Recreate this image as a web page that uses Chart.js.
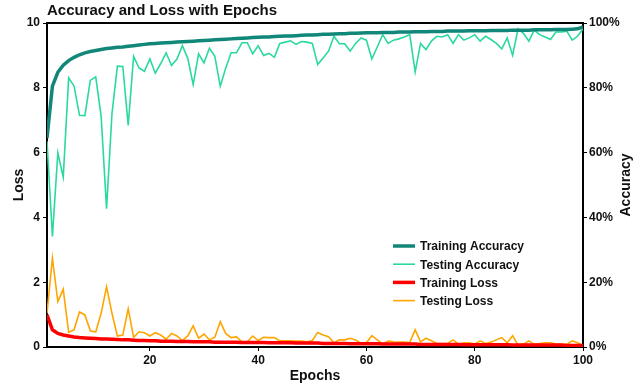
<!DOCTYPE html>
<html>
<head>
<meta charset="utf-8">
<script src="https://cdn.jsdelivr.net/npm/chart.js@4"></script>
<style>
  body { margin: 0; background: #fff; }
  #wrap { width: 642px; height: 386px; }
</style>
</head>
<body>
<div id="wrap"><canvas id="accLoss" width="642" height="386"></canvas></div>
<script>
// epochs 1..100
const epochs = Array.from({ length: 100 }, (_, i) => i + 1);
const xTicks = [20, 40, 60, 80, 100];

// accuracy in %
const trainAcc = [
  64.5, 80.5, 84.8, 87.0, 88.4, 89.4, 90.2, 90.8, 91.2, 91.5,
  91.8, 92.1, 92.3, 92.5, 92.6, 92.8, 93.0, 93.2, 93.4, 93.6,
  93.7, 93.8, 93.9, 94.0, 94.1, 94.2, 94.3, 94.4, 94.5, 94.6,
  94.7, 94.8, 94.9, 95.0, 95.1, 95.2, 95.3, 95.4, 95.5, 95.6,
  95.7, 95.7, 95.8, 95.9, 96.0, 96.0, 96.1, 96.2, 96.3, 96.3,
  96.4, 96.5, 96.5, 96.6, 96.7, 96.7, 96.8, 96.8, 96.9, 97.0,
  97.0, 97.0, 97.1, 97.1, 97.1, 97.2, 97.2, 97.2, 97.3, 97.3,
  97.3, 97.4, 97.4, 97.4, 97.5, 97.5, 97.5, 97.5, 97.6, 97.6,
  97.6, 97.6, 97.7, 97.7, 97.7, 97.7, 97.8, 97.8, 97.8, 97.8,
  97.9, 97.9, 97.9, 97.9, 98.0, 98.0, 98.0, 98.1, 98.2, 98.8
];
const testAcc = [
  63.5, 34.1, 59.9, 52.4, 83.1, 80.5, 71.5, 71.4, 82.3, 83.4,
  71.2, 42.7, 72.0, 86.7, 86.6, 68.4, 89.7, 86.1, 85.1, 88.9,
  84.5, 87.5, 90.8, 86.9, 88.9, 93.0, 89.1, 81.0, 90.5, 87.7,
  92.2, 89.7, 80.5, 86.0, 90.8, 90.8, 93.9, 93.9, 90.5, 93.0,
  90.0, 90.6, 89.4, 93.7, 94.1, 94.5, 93.4, 94.3, 94.1, 93.7,
  87.2, 89.2, 91.3, 95.9, 93.6, 93.6, 91.3, 93.7, 95.4, 94.7,
  88.9, 92.6, 96.4, 93.7, 94.7, 95.1, 95.7, 96.4, 84.9, 93.7,
  91.8, 94.4, 95.9, 95.7, 96.4, 93.7, 96.4, 94.7, 95.4, 96.4,
  94.4, 95.9, 94.9, 93.7, 92.0, 95.4, 90.0, 98.2, 96.8, 94.4,
  97.8, 96.4, 95.7, 94.9, 97.2, 97.2, 97.5, 94.7, 95.9, 98.2
];

// loss
const trainLoss = [
  0.99, 0.53, 0.42, 0.37, 0.34, 0.31, 0.29, 0.28, 0.27, 0.26,
  0.25, 0.25, 0.24, 0.23, 0.22, 0.22, 0.21, 0.20, 0.20, 0.19,
  0.19, 0.18, 0.18, 0.18, 0.17, 0.17, 0.17, 0.16, 0.16, 0.16,
  0.16, 0.15, 0.15, 0.15, 0.15, 0.15, 0.14, 0.14, 0.14, 0.14,
  0.14, 0.13, 0.13, 0.13, 0.13, 0.13, 0.12, 0.12, 0.12, 0.12,
  0.12, 0.11, 0.11, 0.11, 0.11, 0.11, 0.10, 0.10, 0.10, 0.10,
  0.10, 0.10, 0.09, 0.09, 0.09, 0.09, 0.09, 0.09, 0.09, 0.08,
  0.08, 0.08, 0.08, 0.08, 0.08, 0.08, 0.08, 0.07, 0.07, 0.07,
  0.07, 0.07, 0.07, 0.07, 0.07, 0.07, 0.06, 0.06, 0.06, 0.06,
  0.06, 0.06, 0.06, 0.06, 0.06, 0.06, 0.05, 0.05, 0.05, 0.05
];
const testLoss = [
  1.04, 2.74, 1.40, 1.78, 0.45, 0.53, 1.08, 0.99, 0.50, 0.46,
  1.04, 1.86, 1.04, 0.34, 0.37, 1.18, 0.30, 0.47, 0.44, 0.34,
  0.44, 0.37, 0.24, 0.42, 0.34, 0.20, 0.34, 0.65, 0.27, 0.40,
  0.22, 0.30, 0.78, 0.42, 0.29, 0.31, 0.16, 0.16, 0.34, 0.20,
  0.30, 0.29, 0.29, 0.19, 0.19, 0.19, 0.18, 0.18, 0.16, 0.20,
  0.45, 0.37, 0.32, 0.13, 0.22, 0.22, 0.27, 0.22, 0.11, 0.13,
  0.35, 0.22, 0.09, 0.18, 0.16, 0.15, 0.15, 0.14, 0.53, 0.16,
  0.27, 0.19, 0.11, 0.11, 0.11, 0.22, 0.09, 0.13, 0.13, 0.09,
  0.19, 0.11, 0.15, 0.22, 0.29, 0.13, 0.35, 0.06, 0.09, 0.19,
  0.08, 0.11, 0.13, 0.13, 0.09, 0.08, 0.08, 0.19, 0.13, 0.05
];

const FONT = "'Liberation Sans', Arial, sans-serif";

function pts(values) {
  return epochs.map((e, i) => ({ x: e, y: values[i] }));
}

// frame, title, axis titles and legend
const decor = {
  id: 'decor',
  afterDraw(chart) {
    const c = chart.ctx;
    const a = chart.chartArea;
    c.save();
    c.strokeStyle = '#000';
    c.lineWidth = 2;
    c.beginPath();
    c.moveTo(a.left, a.top);
    c.lineTo(a.right, a.top);
    c.stroke();

    c.fillStyle = '#111';
    c.textBaseline = 'middle';
    c.font = 'bold 15px ' + FONT;
    c.textAlign = 'left';
    c.fillText('Accuracy and Loss with Epochs', 47, 11);

    c.font = 'bold 14px ' + FONT;
    c.textAlign = 'center';
    c.fillText('Epochs', (a.left + a.right) / 2, 376);
    c.save();
    c.translate(19, (a.top + a.bottom) / 2);
    c.rotate(-Math.PI / 2);
    c.fillText('Loss', 0, 0);
    c.restore();
    c.save();
    c.translate(626, (a.top + a.bottom) / 2);
    c.rotate(-Math.PI / 2);
    c.fillText('Accuracy', 0, 0);
    c.restore();

    // legend
    c.font = 'bold 12px ' + FONT;
    c.textAlign = 'left';
    chart.data.datasets.forEach((ds, i) => {
      const y = 246 + i * 18.2;
      c.strokeStyle = ds.borderColor;
      c.lineWidth = ds.borderWidth;
      c.beginPath();
      c.moveTo(393, y);
      c.lineTo(415, y);
      c.stroke();
      c.fillStyle = '#111';
      c.fillText(ds.label, 420, y + 1);
    });
    c.restore();
  }
};

const tickFont = { family: FONT, size: 12, weight: 'bold' };

new Chart(document.getElementById('accLoss'), {
  type: 'line',
  data: {
    datasets: [
      { label: 'Training Accuracy', data: pts(trainAcc), yAxisID: 'acc', borderColor: '#11877a', borderWidth: 3.5, order: 1 },
      { label: 'Testing Accuracy', data: pts(testAcc), yAxisID: 'acc', borderColor: '#2ad9a0', borderWidth: 1.6, order: 2 },
      { label: 'Training Loss', data: pts(trainLoss), yAxisID: 'loss', borderColor: '#ff0000', borderWidth: 3.5, order: 3 },
      { label: 'Testing Loss', data: pts(testLoss), yAxisID: 'loss', borderColor: '#ffa500', borderWidth: 1.6, order: 4 }
    ]
  },
  options: {
    responsive: false,
    animation: false,
    layout: { padding: { top: 23 } },
    elements: { point: { radius: 0 }, line: { tension: 0 } },
    plugins: { legend: { display: false }, tooltip: { enabled: false } },
    scales: {
      x: {
        type: 'linear',
        min: 1,
        max: 100,
        afterBuildTicks: s => { s.ticks = xTicks.map(v => ({ value: v })); },
        afterFit: s => { s.height = 39; },
        grid: { display: true, drawOnChartArea: false, drawTicks: true, tickLength: 4, color: '#000' },
        border: { display: true, width: 2, color: '#000' },
        ticks: { font: tickFont, color: '#111', padding: 2, maxRotation: 0 }
      },
      loss: {
        position: 'left',
        min: 0,
        max: 10,
        afterFit: s => { s.width = 47; },
        grid: { display: true, drawOnChartArea: false, drawTicks: true, tickLength: 4, color: '#000' },
        border: { display: true, width: 2, color: '#000' },
        ticks: { stepSize: 2, font: tickFont, color: '#111', padding: 3 }
      },
      acc: {
        position: 'right',
        min: 0,
        max: 100,
        afterFit: s => { s.width = 59; },
        grid: { display: true, drawOnChartArea: false, drawTicks: true, tickLength: 4, color: '#000' },
        border: { display: true, width: 2, color: '#000' },
        ticks: { stepSize: 20, font: tickFont, color: '#111', padding: 2, callback: v => v + '%' }
      }
    }
  },
  plugins: [decor]
});
</script>
</body>
</html>
